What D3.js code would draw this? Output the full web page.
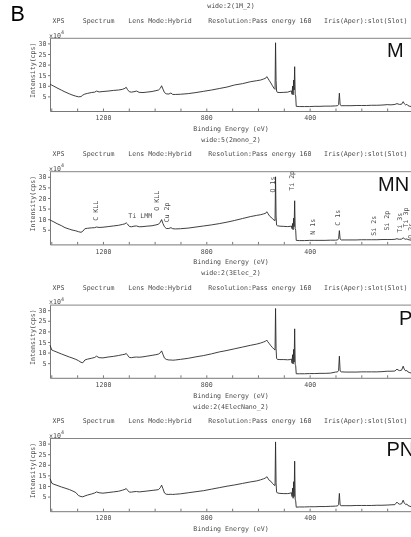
<!DOCTYPE html>
<html><head><meta charset="utf-8">
<script src="https://cdn.jsdelivr.net/npm/d3@7"></script>
<style>
html,body{margin:0;padding:0;background:#fff;overflow:hidden}
svg{display:block;filter:grayscale(1)}
.mono{font-family:"DejaVu Sans Mono","Liberation Mono",monospace;font-size:6.6px;fill:#4a4a4a}
</style></head><body>
<script>
// ---- data (intensity in units of 10^4 cps) ----
const panelTitles = ["wide:2(1M_2)", "wide:5(2mono_2)", "wide:2(3Elec_2)", "wide:2(4ElecNano_2)"];
const sampleNames = ["M", "MN", "P", "PN"];
const headerItems = ["XPS", "Spectrum", "Lens Mode:Hybrid", "Resolution:Pass energy 160", "Iris(Aper):slot(Slot)"];
const xTickLabels = [1200, 800, 400, 0];
const yTickLabels = [5, 10, 15, 20, 25, 30];

const energy = [1405,1398,1390,1378,1360,1347,1330,1320,1305,1295,1285,1278,1270,1260,1245,1232,1225,1215,1200,1180,1160,1140,1125,1115,1110,1105,1098,1090,1080,1070,1060,1045,1030,1010,995,985,978,973,968,962,955,945,937,930,920,900,870,840,810,780,750,720,690,660,630,605,590,578,570,566,562,556,550,544,538,534,532,530,528,525,515,500,485,475,471,468,466,464,462,460,458,456,454,452,440,420,400,380,360,340,320,300,292,288,285,282,278,260,240,220,200,180,160,140,120,100,85,70,62,58,52,44,38,34,28,24,20,12,5,0];

const seriesM = [10.8,10.3,9.8,9.0,7.9,7.1,6.2,5.7,5.1,4.8,4.9,5.6,6.1,6.4,6.8,7.0,7.5,7.1,7.3,7.5,7.8,8.0,8.3,8.8,9.3,8.2,7.2,7.0,7.2,7.5,6.9,6.8,7.0,7.3,7.7,8.0,8.8,10.0,8.5,6.8,6.2,6.1,6.6,5.9,5.9,6.0,6.3,6.8,7.4,8.0,8.7,9.4,10.4,11.0,11.9,12.4,12.7,13.2,13.6,14.3,13.6,12.4,11.3,10.0,8.8,8.3,30.3,12.5,7.5,6.9,6.8,6.9,7.0,7.4,7.6,6.0,9.9,5.7,12.7,8.0,19.0,6.0,5.2,0.3,0.2,0.2,0.2,0.3,0.3,0.4,0.4,0.5,0.6,1.2,6.5,1.0,0.6,0.6,0.6,0.7,0.7,0.7,0.8,0.8,0.9,1.1,1.0,1.2,1.6,1.4,1.2,1.3,2.5,1.6,0.9,1.3,0.7,0.3,0.2,0.1];

const seriesMN = [9.6,9.2,8.7,7.9,6.9,6.0,5.3,4.9,4.5,4.1,3.8,4.3,5.5,5.7,5.9,6.0,6.3,6.1,6.2,6.5,6.8,7.1,7.5,7.8,8.3,7.7,6.6,6.4,6.7,6.8,6.4,6.5,6.7,6.9,7.3,7.6,8.6,9.8,8.0,6.4,5.6,5.6,6.0,5.5,5.4,5.5,5.8,6.3,6.8,7.3,7.9,8.6,9.4,10.3,11.2,11.8,12.1,12.5,12.8,13.5,12.8,11.6,11.0,10.2,9.6,9.3,30.0,11.5,7.2,6.9,6.7,6.6,6.5,6.6,6.8,5.5,8.0,5.0,10.5,6.5,18.7,5.5,4.8,0.0,-0.1,-0.1,0.0,0.0,0.0,0.0,0.1,0.1,0.2,0.8,4.6,0.6,0.2,0.2,0.2,0.2,0.3,0.3,0.3,0.3,0.4,0.4,0.4,0.5,0.8,0.6,0.5,0.6,1.2,0.8,0.5,0.7,0.4,0.2,0.1,0.0];

const seriesP = [13.5,11.2,10.8,10.2,9.3,8.7,7.9,7.5,6.8,6.2,5.4,5.2,6.5,6.9,7.3,7.7,8.3,7.6,7.5,7.9,8.2,8.6,9.0,9.2,9.6,8.8,7.7,7.6,7.8,7.9,7.8,8.0,8.3,8.7,9.0,9.3,9.9,10.8,9.2,7.4,6.8,6.5,6.5,6.4,6.5,6.8,7.3,8.0,8.6,9.4,10.3,11.0,11.8,12.6,13.4,14.0,14.5,15.0,15.4,15.9,15.1,14.2,13.2,12.4,11.6,11.2,30.8,12.0,7.3,6.8,6.7,6.7,6.6,6.7,7.0,5.0,9.0,4.6,11.5,5.5,21.2,4.5,3.8,0.0,0.0,0.0,0.1,0.1,0.2,0.2,0.3,0.8,0.9,1.6,8.3,1.3,0.9,0.8,0.8,0.8,0.9,0.9,0.9,0.9,1.0,1.2,1.2,1.3,2.2,1.8,1.5,1.7,3.6,2.2,1.3,1.6,0.9,0.5,0.3,0.2];

const seriesPN = [13.5,11.3,10.8,10.3,9.5,9.0,8.3,7.8,6.9,5.5,5.0,4.9,5.3,5.7,6.2,6.7,7.2,6.8,6.6,6.9,7.2,7.5,8.0,8.4,8.8,8.0,7.1,7.1,7.3,7.4,7.2,7.4,7.6,7.9,8.1,8.3,9.2,10.4,8.8,6.7,6.1,6.0,6.1,6.0,6.1,6.3,6.8,7.3,7.8,8.5,9.2,9.9,10.5,11.2,11.9,12.4,12.9,13.4,13.8,14.4,13.7,12.6,12.2,11.2,10.5,10.2,30.8,11.5,7.2,6.7,6.5,6.4,6.4,6.6,6.9,5.0,9.0,4.2,12.0,5.0,21.7,3.8,3.0,0.0,0.1,0.1,0.2,0.2,0.3,0.3,0.4,0.5,0.6,1.3,6.5,1.0,0.7,0.7,0.7,0.8,0.8,0.8,0.8,0.9,0.9,1.0,1.1,1.2,2.4,1.8,1.4,1.6,3.3,2.0,1.2,1.5,0.8,0.4,0.2,0.1];

const allSeries = [seriesM, seriesMN, seriesP, seriesPN];

// peak annotations on the MN panel
const peakNames  = ["C KLL","O KLL","Cu 2p","O 1s","Ti 2p","N 1s","C 1s","Si 2s","Si 2p","Ti 3s","Ti 3p","O 2s"];
const peakEnergy = [1230, 991, 952, 545, 471, 390, 292, 153, 101, 53, 27, 8];
const peakLevel  = [9.3, 14.0, 8.5, 22.6, 23.4, 2.7, 6.9, 2.2, 4.6, 3.6, 6.1, 0.8];
const augerLabel = "Ti LMM", augerEnergy = 1102, augerLevel = 10.7;

// ---- layout ----
const W = 411, H = 537;
const left = 50, right = 413;
const top0 = 38.3, step = 133.4, ph = 72.7;
const nameOffsets = [[387,18.4],[378,19],[399,19.5],[386.5,17]];

const svg = d3.select("body").append("svg").attr("width", W).attr("height", H);

svg.append("text").attr("x", 10.5).attr("y", 21).text("B")
  .attr("font-family", "Liberation Sans, Arial, sans-serif").attr("font-size", 21.5).attr("fill", "#000");

const x = d3.scaleLinear().domain([1405, 0]).range([left, right]);
const headerX = [52.5, 82.7, 128.3, 208.3, 324];

allSeries.forEach((vals, i) => {
  const top = top0 + i * step, bot = top + ph;
  const y = d3.scaleLinear().domain([-1.9, 32.4]).range([bot, top]);
  const g = svg.append("g");

  g.append("text").attr("class", "mono").attr("x", 231).attr("y", top - 30).attr("text-anchor", "middle").text(panelTitles[i]);
  headerItems.forEach((h, k) => {
    g.append("text").attr("class", "mono").attr("x", headerX[k]).attr("y", top - 15.5).text(h);
  });

  // frame top
  g.append("line").attr("x1", left).attr("x2", right).attr("y1", top).attr("y2", top)
    .attr("stroke", "#666").attr("stroke-width", 0.8);

  // x axis
  const xa = d3.axisBottom(x).tickValues(d3.range(0, 1401, 100)).tickSize(-2.5).tickSizeOuter(0).tickPadding(4.5)
    .tickFormat(d => xTickLabels.includes(d) ? d : "");
  const gx = g.append("g").attr("transform", `translate(0,${bot})`).call(xa);
  gx.selectAll("path,line").attr("stroke", "#555").attr("stroke-width", 0.8);
  gx.selectAll("text").attr("class", "mono").attr("font-size", null).attr("font-family", null);

  // y axis
  const ya = d3.axisLeft(y).tickValues(yTickLabels).tickSize(2).tickSizeOuter(0).tickPadding(1.5);
  const gy = g.append("g").attr("transform", `translate(${left},0)`).call(ya);
  gy.selectAll("path,line").attr("stroke", "#555").attr("stroke-width", 0.8);
  gy.selectAll("text").attr("class", "mono").attr("font-size", null).attr("font-family", null);

  // x10^4
  const ex = g.append("text").attr("class", "mono").attr("x", 49).attr("y", top - 0.8).attr("font-size", "6px");
  ex.append("tspan").text("x10");
  ex.append("tspan").attr("dy", -3.5).attr("font-size", "5px").text("4");

  g.append("text").attr("class", "mono").attr("transform", `translate(35,${top + 32}) rotate(-90)`)
    .attr("text-anchor", "middle").text("Intensity(cps)");
  g.append("text").attr("class", "mono").attr("x", 231).attr("y", bot + 20).attr("text-anchor", "middle").text("Binding Energy (eV)");

  // spectrum
  const line = d3.line().x((d, k) => x(energy[k])).y(d => y(d));
  g.append("path").datum(vals).attr("d", line).attr("fill", "none")
    .attr("stroke", "#2a2a2a").attr("stroke-width", 0.9).attr("stroke-linejoin", "round");

  g.append("text").attr("x", nameOffsets[i][0]).attr("y", top + nameOffsets[i][1]).text(sampleNames[i])
    .attr("font-family", "Liberation Sans, Arial, sans-serif").attr("font-size", 20).attr("fill", "#111");

  if (i === 1) {
    peakNames.forEach((n, k) => {
      g.append("text").attr("class", "mono")
        .attr("transform", `translate(${x(peakEnergy[k])},${y(peakLevel[k])}) rotate(-90)`)
        .attr("dy", "0.35em").text(n);
    });
    g.append("text").attr("class", "mono").attr("x", x(augerEnergy)).attr("y", y(augerLevel)).text(augerLabel);
  }
});
</script></body></html>
